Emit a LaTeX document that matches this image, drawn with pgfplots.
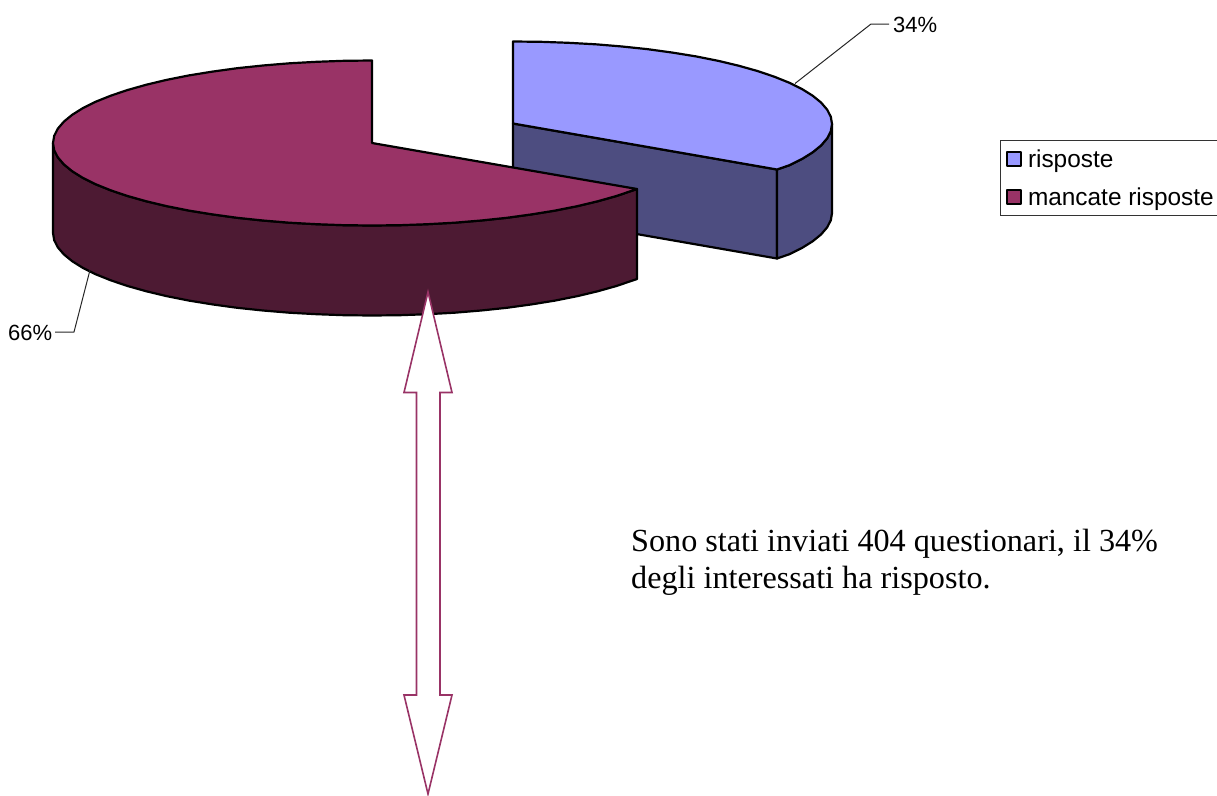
\documentclass[border=0pt]{standalone}
\usepackage{fontspec}
\setmainfont{Liberation Sans}
\newfontfamily\timesf{Liberation Serif}
\usepackage{pgfplots}
\pgfplotsset{compat=1.18}
\definecolor{bluetop}{HTML}{9999FF}
\definecolor{blueside}{HTML}{4D4D80}
\definecolor{redtop}{HTML}{993366}
\definecolor{redside}{HTML}{4D1A33}
\begin{document}
\begin{tikzpicture}
\useasboundingbox (0,0) rectangle (1217pt,795pt);
\begin{axis}[
  anchor=south west, at={(0,0)},
  scale only axis, width=1217pt, height=795pt,
  xmin=0, xmax=1217, ymin=0, ymax=795, y dir=reverse,
  hide axis,
  legend style={at={(999.5/1217,1-140/795)}, anchor=north west, draw=black!80, line width=1pt,
    font=\fontsize{24.4}{28}\selectfont, inner xsep=6pt, inner ysep=7pt,
    row sep=15pt, cells={anchor=west},
    /tikz/every odd column/.append style={column sep=4pt}},
  legend image code/.code={\draw[#1, line width=2pt] (0pt,-7pt) rectangle (14pt,7pt);},
  every axis plot/.append style={line width=2.2pt, line join=round, draw=black},
]
% blue slice (34%)
\addplot[fill=blueside, forget plot] coordinates {(513,123.5)(777,169.5)(777,258.5)(513,212.5)} -- cycle;
\addplot[fill=blueside, forget plot] coordinates {
(832,124)(830.8,131.2)(827.2,138.3)(821.1,145.4)(812.8,152.2)(802.1,158.9)(789.3,165.25)(777,169.5)
(777,258.5)(789.3,254.25)(802.1,247.9)(812.8,241.2)(821.1,234.4)(827.2,227.3)(830.8,220.2)(832,213)} -- cycle;
\addplot[fill=bluetop] coordinates {
(513,123.5)(513,41.5)(540.8,41.8)(568.4,42.8)(595.6,44.3)(622.1,46.5)(647.8,49.2)(672.5,52.6)(696,56.4)
(718.1,60.8)(738.6,65.7)(757.4,71)(774.3,76.7)(789.3,82.75)(802.1,89.1)(812.8,95.8)(821.1,102.6)
(827.2,109.7)(830.8,116.8)(832,124)(830.8,131.2)(827.2,138.3)(821.1,145.4)(812.8,152.2)(802.1,158.9)
(789.3,165.25)(777,169.5)} -- cycle;
\addlegendentry{risposte}
% red slice (66%)
\addplot[fill=redside, forget plot] coordinates {
(53,143)(54.2,150.2)(57.8,157.3)(63.9,164.4)(72.2,171.2)(82.9,177.9)(95.7,184.25)(110.7,190.3)(127.6,196)
(146.4,201.3)(166.9,206.2)(189,210.6)(212.5,214.4)(237.2,217.8)(262.9,220.5)(289.4,222.7)(316.6,224.2)
(344.2,225.2)(372,225.5)(399.8,225.2)(427.4,224.2)(454.6,222.7)(481.1,220.5)(506.8,217.8)(531.5,214.4)
(555,210.6)(577.1,206.2)(597.6,201.3)(616.4,196)(637,189)
(637,279)(616.4,286)(597.6,291.3)(577.1,296.2)(555,300.6)(531.5,304.4)(506.8,307.8)(481.1,310.5)
(454.6,312.7)(427.4,314.2)(399.8,315.2)(372,315.5)(344.2,315.2)(316.6,314.2)(289.4,312.7)(262.9,310.5)
(237.2,307.8)(212.5,304.4)(189,300.6)(166.9,296.2)(146.4,291.3)(127.6,286)(110.7,280.3)(95.7,274.25)
(82.9,267.9)(72.2,261.2)(63.9,254.4)(57.8,247.3)(54.2,240.2)(53,233)} -- cycle;
\addplot[fill=redtop] coordinates {
(372,143)(372,60.5)(344.2,60.8)(316.6,61.8)(289.4,63.3)(262.9,65.5)(237.2,68.2)(212.5,71.6)(189,75.4)
(166.9,79.8)(146.4,84.7)(127.6,90)(110.7,95.7)(95.7,101.75)(82.9,108.1)(72.2,114.8)(63.9,121.6)
(57.8,128.7)(54.2,135.8)(53,143)(54.2,150.2)(57.8,157.3)(63.9,164.4)(72.2,171.2)(82.9,177.9)(95.7,184.25)
(110.7,190.3)(127.6,196)(146.4,201.3)(166.9,206.2)(189,210.6)(212.5,214.4)(237.2,217.8)(262.9,220.5)
(289.4,222.7)(316.6,224.2)(344.2,225.2)(372,225.5)(399.8,225.2)(427.4,224.2)(454.6,222.7)(481.1,220.5)
(506.8,217.8)(531.5,214.4)(555,210.6)(577.1,206.2)(597.6,201.3)(616.4,196)(637,189)} -- cycle;
\addlegendentry{mancate risposte}
% leader lines
\addplot[line width=1pt, draw=black!85, forget plot] coordinates {(795,83.5)(871,24)(889,24)};
\addplot[line width=1pt, draw=black!85, forget plot] coordinates {(90,270)(74,332)(55,332)};
% double arrow
\addplot[line width=1.6pt, draw=redtop, fill=white, line join=miter, forget plot] coordinates {
(428,292)(452,392.5)(440,392.5)(440,695)(452,695)(428,794)(404,695)(416.5,695)(416.5,392.5)(404,392.5)} -- cycle;
\node[anchor=west, inner sep=0pt, font=\fontsize{22}{26}\selectfont] at (axis cs:893,24.5) {34\%};
\node[anchor=west, inner sep=0pt, font=\fontsize{22}{26}\selectfont] at (axis cs:8,333) {66\%};
\node[anchor=base west, inner sep=0pt, font=\timesf\fontsize{32.2}{37}\selectfont] at (axis cs:631,551) {Sono stati inviati 404 questionari, il 34\%};
\node[anchor=base west, inner sep=0pt, font=\timesf\fontsize{32.2}{37}\selectfont] at (axis cs:631,588) {degli interessati ha risposto.};
\end{axis}
\end{tikzpicture}
\end{document}
